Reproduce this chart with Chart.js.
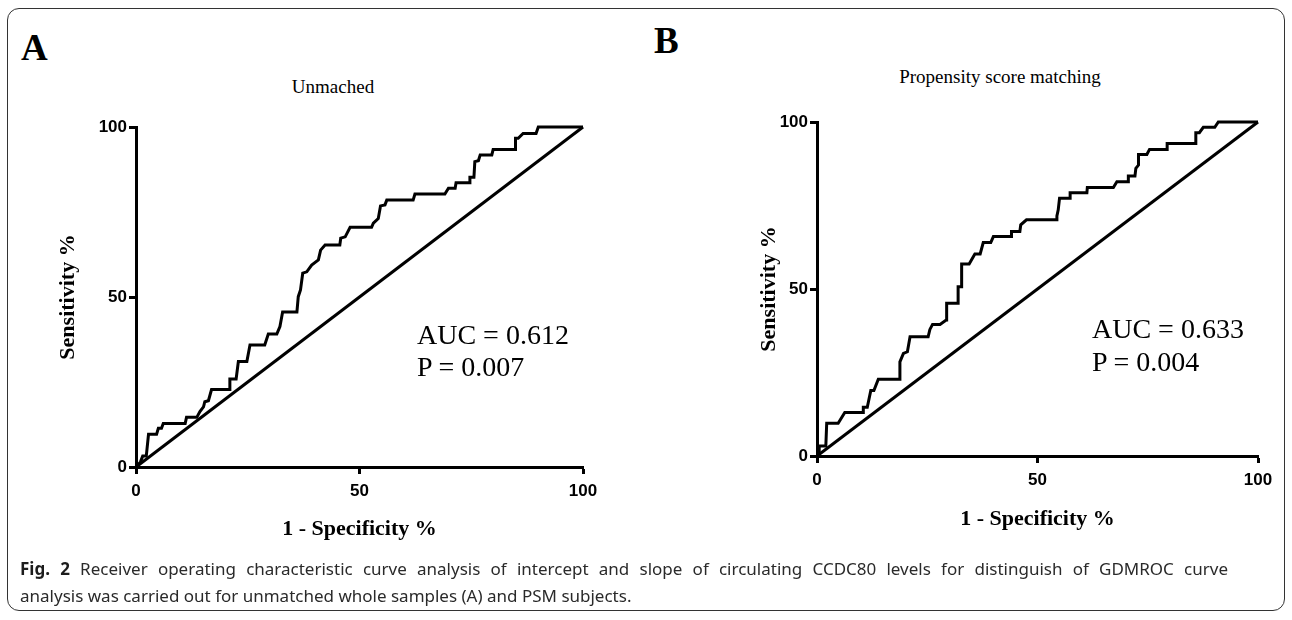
<!DOCTYPE html>
<html lang="en">
<head>
  <meta charset="UTF-8" />
  <title>ROC curves - CCDC80</title>
  <script src="https://cdn.jsdelivr.net/npm/chart.js"></script>
  <style>
    body {
      margin: 0;
      width: 1292px;
      height: 620px;
      background: #fff;
      position: relative;
      overflow: hidden;
      font-family: 'Liberation Serif', 'Times New Roman', serif;
      color: #000;
    }
    #frame {
      position: absolute;
      left: 7px; top: 8px;
      width: 1276px; height: 601px;
      border: 1.5px solid #333;
      border-radius: 12px;
    }
    .wrap { position: absolute; }
    .txt { position: absolute; line-height: 1; white-space: nowrap; }
    .panel { font-weight: bold; font-size: 37px; }
    .title { font-size: 19px; transform: translateX(-50%); }
    .auc { font-size: 28px; }
    #caption {
      position: absolute;
      left: 20px; top: 555px;
      width: 1208px;
      font-family: 'Noto Sans', 'Open Sans', sans-serif;
      font-size: 17px;
      line-height: 27px;
      color: #2a2a2a;
    }
    #caption .l1 { white-space: nowrap; text-align: justify; text-align-last: justify; }
    #caption .l2 { white-space: nowrap; }
    #caption b { color: #1c1c1c; }
  </style>
</head>
<body>
  <div id="frame"></div>

  <div class="txt panel" style="left:21px; top:29px;">A</div>
  <div class="txt panel" style="left:654px; top:22px;">B</div>
  <div class="txt title" style="left:333px; top:77px;">Unmached</div>
  <div class="txt title" style="left:1000px; top:67px;">Propensity score matching</div>

  <div class="wrap" style="left:10px; top:100px; width:610px; height:460px;">
    <canvas id="rocA"></canvas>
  </div>
  <div class="wrap" style="left:680px; top:95px; width:610px; height:454px;">
    <canvas id="rocB"></canvas>
  </div>

  <div class="txt auc" style="left:417px; top:321px;">AUC = 0.612</div>
  <div class="txt auc" style="left:417px; top:353px;">P = 0.007</div>
  <div class="txt auc" style="left:1092px; top:315px;">AUC = 0.633</div>
  <div class="txt auc" style="left:1092px; top:348px;">P = 0.004</div>

  <div id="caption">
    <div class="l1"><b>Fig. 2</b> Receiver operating characteristic curve analysis of intercept and slope of circulating CCDC80 levels for distinguish of GDMROC curve</div>
    <div class="l2">analysis was carried out for unmatched whole samples (A) and PSM subjects.</div>
  </div>

  <script>
    // panel A - unmatched samples (1 - specificity %, sensitivity %)
    const fprA = [0, 1.0, 1.5, 2.3, 2.8, 4.6, 5.0, 5.7, 6.1, 11.0, 11.3, 13.6, 14.3, 15.1, 15.4, 16.2, 16.9, 21.0,
      21.0, 22.4, 22.9, 24.8, 25.5, 28.8, 29.6, 31.5, 32.2, 32.8, 36.0, 36.3, 36.8, 37.3, 38.2, 39.3, 40.8, 41.3,
      42.3, 45.6, 45.8, 46.8, 47.9, 52.7, 53.1, 54.2, 54.7, 55.7, 56.1, 62.0, 62.4, 69.1, 69.9, 71.4, 71.6, 74.6,
      74.7, 75.6, 75.8, 76.6, 77.0, 79.6, 79.9, 84.8, 84.9, 85.5, 86.6, 89.5, 90.0, 100];
    const tprA = [0, 1.5, 3.2, 3.2, 9.6, 9.6, 11.4, 11.4, 12.8, 12.8, 14.6, 14.6, 16.3, 17.7, 19.2, 19.5, 22.8, 22.8,
      25.9, 25.9, 31.0, 31.0, 35.9, 35.9, 39.1, 39.1, 41.3, 45.6, 45.6, 50.1, 52.1, 57.0, 57.4, 59.4, 60.9, 63.8,
      65.3, 65.3, 67.3, 67.7, 70.5, 70.5, 71.7, 73.1, 76.8, 77.1, 78.5, 78.5, 80.3, 80.3, 82.0, 82.0, 83.6, 83.6,
      85.2, 85.2, 89.8, 90.1, 91.8, 91.8, 93.4, 93.4, 96.7, 96.7, 98.1, 98.1, 100, 100];

    // panel B - propensity score matched subjects
    const fprB = [0, 0.5, 0.5, 2.0, 2.2, 4.8, 6.3, 10.5, 10.5, 11.4, 12.2, 12.9, 13.9, 18.7, 18.8, 19.6, 20.5, 21.1,
      25.2, 25.6, 26.2, 27.9, 29.3, 29.4, 32.0, 32.0, 32.8, 32.8, 34.5, 35.8, 37.0, 37.7, 39.4, 40.0, 44.1, 44.1,
      46.0, 46.2, 47.5, 54.2, 54.4, 54.7, 55.0, 57.4, 57.4, 61.2, 61.3, 67.2, 68.0, 70.6, 70.6, 72.1, 72.3, 72.9,
      72.9, 74.8, 75.4, 79.4, 79.4, 85.9, 85.9, 86.7, 87.6, 90.2, 91.0, 100];
    const tprB = [0, 0.5, 3.0, 3.0, 9.8, 9.8, 13.0, 13.0, 14.6, 14.6, 19.6, 19.6, 23.0, 23.0, 28.2, 30.7, 31.2, 35.7,
      35.7, 37.9, 39.4, 39.4, 40.7, 45.7, 45.7, 50.7, 50.7, 57.5, 57.5, 60.5, 60.5, 63.9, 63.9, 65.7, 65.7, 67.2,
      67.2, 69.2, 70.7, 70.7, 71.9, 73.7, 77.2, 77.2, 78.8, 78.8, 80.4, 80.4, 82.1, 82.1, 83.8, 83.8, 86.1, 87.1,
      90.3, 90.3, 91.8, 91.8, 93.6, 93.6, 96.8, 96.8, 98.4, 98.4, 100, 100];

    const refLine = [0, 100];
    const axisTicks = [0, 50, 100];

    function pts(xs, ys) {
      return xs.map((x, i) => ({ x: x, y: ys[i] }));
    }

    const tickFont = { family: "'Liberation Sans', Arial, sans-serif", weight: 'bold', size: 17 };
    const titleFont = { family: "'Liberation Serif', 'Times New Roman', serif", weight: 'bold', size: 22 };

    function axis(horizontal, box, titleText, titlePad) {
      return {
        type: 'linear',
        min: 0,
        max: 100,
        afterBuildTicks: s => { s.ticks = axisTicks.map(v => ({ value: v })); },
        afterFit: s => { if (horizontal) s.height = box; else s.width = box; },
        border: { display: true, color: '#000', width: 3 },
        grid: { drawOnChartArea: false, drawTicks: true, tickLength: 7, tickWidth: 3, tickColor: '#000' },
        ticks: { color: '#000', font: tickFont, padding: horizontal ? 7 : 2, maxRotation: 0 },
        title: { display: true, text: titleText, color: '#000', font: titleFont, padding: titlePad }
      };
    }

    function makeRoc(id, xs, ys, opts) {
      const ctx = document.getElementById(id).getContext('2d');
      return new Chart(ctx, {
        type: 'scatter',
        data: {
          datasets: [
            { data: pts(xs, ys), showLine: true, borderColor: '#000', borderWidth: 3, pointRadius: 0, tension: 0, clip: 4 },
            { data: pts(refLine, refLine), showLine: true, borderColor: '#000', borderWidth: 3, pointRadius: 0, clip: 4 }
          ]
        },
        options: {
          responsive: true,
          maintainAspectRatio: false,
          animation: false,
          events: [],
          layout: { padding: opts.padding },
          plugins: { legend: { display: false }, tooltip: { enabled: false } },
          scales: {
            x: axis(true, opts.xBox, '1 - Specificity %', { top: 0, bottom: opts.xTitlePad }),
            y: axis(false, opts.yBox, 'Sensitivity %', { top: opts.yTitlePad, bottom: 0 })
          }
        }
      });
    }

    makeRoc('rocA', fprA, tprA, { padding: { left: 0, top: 27, right: 37, bottom: 0 }, xBox: 93, yBox: 126, xTitlePad: 17, yTitlePad: 45 });
    makeRoc('rocB', fprB, tprB, { padding: { left: 0, top: 27, right: 32, bottom: 0 }, xBox: 93, yBox: 137, xTitlePad: 16, yTitlePad: 76 });
  </script>
</body>
</html>
